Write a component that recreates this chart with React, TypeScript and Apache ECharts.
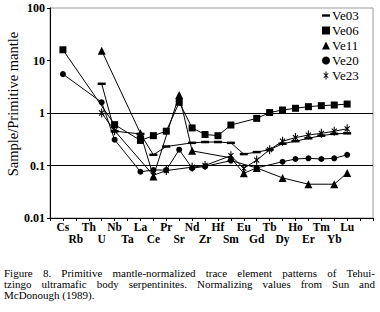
import React, { useEffect, useRef } from "react";
import * as echarts from "echarts";

const elements = ["Cs","Rb","Th","U","Nb","Ta","La","Ce","Pr","Sr","Nd","Zr","Hf","Sm","Eu","Gd","Tb","Dy","Ho","Er","Tm","Yb","Lu"];

const ve03 = [null,null,null,3.6,0.45,null,0.4,0.16,0.23,null,0.27,0.28,0.28,0.27,0.165,0.18,0.2,0.26,0.29,0.33,0.37,0.4,0.41];
const ve06 = [16,null,null,null,0.6,null,0.3,0.37,0.45,1.6,0.52,0.39,0.37,0.59,null,0.79,1.02,1.14,1.23,1.32,1.38,1.42,1.48];
const ve11 = [null,null,null,15.4,null,null,0.41,0.062,null,2.2,0.19,null,null,0.14,0.071,0.09,null,0.058,null,0.044,null,0.044,0.072];
const ve20 = [5.5,null,null,1.6,0.31,null,0.076,0.082,0.082,0.2,0.089,0.096,null,0.124,null,0.09,null,0.118,0.133,0.137,0.133,0.137,0.16];
const ve23 = [null,null,null,1.0,0.46,null,null,0.065,0.08,null,0.093,0.1,null,0.154,0.088,0.127,0.2,0.29,0.34,0.38,0.41,0.45,0.5];

const gridLevels = [1, 0.1];

const captionLines = [
  "Figure 8. Primitive mantle-normalized trace element patterns of Tehui-",
  "tzingo ultramafic body serpentinites. Normalizing values from Sun and",
  "McDonough (1989).",
];

const ASTERISK =
  "path://M-0.6,-5L0.6,-5L0.6,5L-0.6,5Z M-3.25,-2.41L-2.41,-3.25L3.25,2.41L2.41,3.25Z M-2.41,3.25L-3.25,2.41L2.41,-3.25L3.25,-2.41Z";
const DASH = "path://M0,0L10,0L10,3L0,3Z";

const SERIF = '"Liberation Serif", "Times New Roman", serif';

export default function App() {
  const ref = useRef<HTMLDivElement>(null);

  useEffect(() => {
    document.body.style.margin = "0";
    const chart = echarts.init(ref.current!, null, { renderer: "svg" });
    const cats = ["", ...elements, "", ""];
    const pad = (arr: (number | null)[]) => [null, ...arr, null, null];
    const mk = (name: string, data: (number | null)[], symbol: string, symbolSize: any, extra: any = {}) => ({
      name,
      type: "line",
      data: pad(data),
      symbol,
      symbolSize,
      symbolKeepAspect: true,
      connectNulls: true,
      showSymbol: true,
      lineStyle: { color: "#000", width: 1 },
      itemStyle: { color: "#000" },
      emphasis: { disabled: true },
      ...extra,
    });

    chart.setOption({
      animation: false,
      grid: {
        left: 50,
        right: 7,
        top: 8,
        bottom: 94,
        show: true,
        borderColor: "#9a9a9a",
        borderWidth: 1,
      },
      legend: {
        orient: "vertical",
        left: 322,
        top: 9,
        padding: 0,
        itemWidth: 8,
        itemHeight: 8,
        itemGap: 2,
        textStyle: { fontFamily: SERIF, fontSize: 13, color: "#000", padding: [0, 0, 0, -3] },
        data: [
          { name: "Ve03", icon: DASH },
          { name: "Ve06", icon: "rect" },
          { name: "Ve11", icon: "triangle" },
          { name: "Ve20", icon: "circle" },
          { name: "Ve23", icon: ASTERISK },
        ],
      },
      xAxis: {
        type: "category",
        data: cats,
        boundaryGap: false,
        axisLine: { show: true, lineStyle: { color: "#000", width: 1 } },
        axisTick: { show: true, interval: 0, length: 3, lineStyle: { color: "#000" } },
        splitLine: { show: false },
        axisLabel: {
          interval: 0,
          margin: 3,
          color: "#000",
          fontFamily: SERIF,
          fontWeight: "bold",
          fontSize: 11.5,
          lineHeight: 12,
          formatter: (v: string, i: number) => (i % 2 === 1 ? v : "\n" + v),
        },
      },
      yAxis: {
        type: "log",
        logBase: 10,
        min: 0.01,
        max: 100,
        axisLine: { show: true, lineStyle: { color: "#000", width: 1 } },
        axisTick: { show: true, length: 3, lineStyle: { color: "#000" } },
        splitLine: { show: false },
        minorTick: { show: false },
        axisLabel: {
          margin: 5,
          color: "#000",
          fontFamily: SERIF,
          fontWeight: "bold",
          fontSize: 12,
          formatter: (v: number) => {
            const e = Math.round(Math.log10(v));
            return e >= 0 ? String(Math.pow(10, e)) : Math.pow(10, e).toFixed(-e);
          },
        },
      },
      graphic: [
        {
          type: "text",
          x: 13,
          y: 104,
          rotation: Math.PI / 2,
          style: {
            text: "Sample/Primitive mantle",
            font: '14.5px "Liberation Serif"',
            fill: "#000",
            align: "center",
            verticalAlign: "middle",
          },
        },
      ],
      series: [
        mk("Ve03", ve03, "rect", [8, 2.5], {
          markLine: {
            silent: true,
            symbol: "none",
            label: { show: false },
            lineStyle: { color: "#000", type: "solid", width: 1 },
            data: gridLevels.map((v) => ({ yAxis: v })),
          },
        }),
        mk("Ve06", ve06, "rect", 7),
        mk("Ve11", ve11, "triangle", 8),
        mk("Ve20", ve20, "circle", 6),
        mk("Ve23", ve23, ASTERISK, 9),
      ],
    });
    return () => chart.dispose();
  }, []);

  return (
    <div style={{ position: "fixed", left: 0, top: 0, width: 380, height: 312, background: "#fff" }}>
      <div ref={ref} style={{ position: "absolute", left: 0, top: 0, width: 380, height: 312 }} />
      <div
        style={{
          position: "absolute",
          left: 4,
          top: 268,
          width: 371,
          fontFamily: SERIF,
          fontSize: 11,
          lineHeight: "11px",
          color: "#000",
        }}
      >
        {captionLines.map((t, i) => (
          <div
            key={i}
            style={{
              textAlign: "justify",
              textAlignLast: i < captionLines.length - 1 ? "justify" : "left",
              whiteSpace: "nowrap",
              height: 11,
            }}
          >
            {t}
          </div>
        ))}
      </div>
    </div>
  );
}
